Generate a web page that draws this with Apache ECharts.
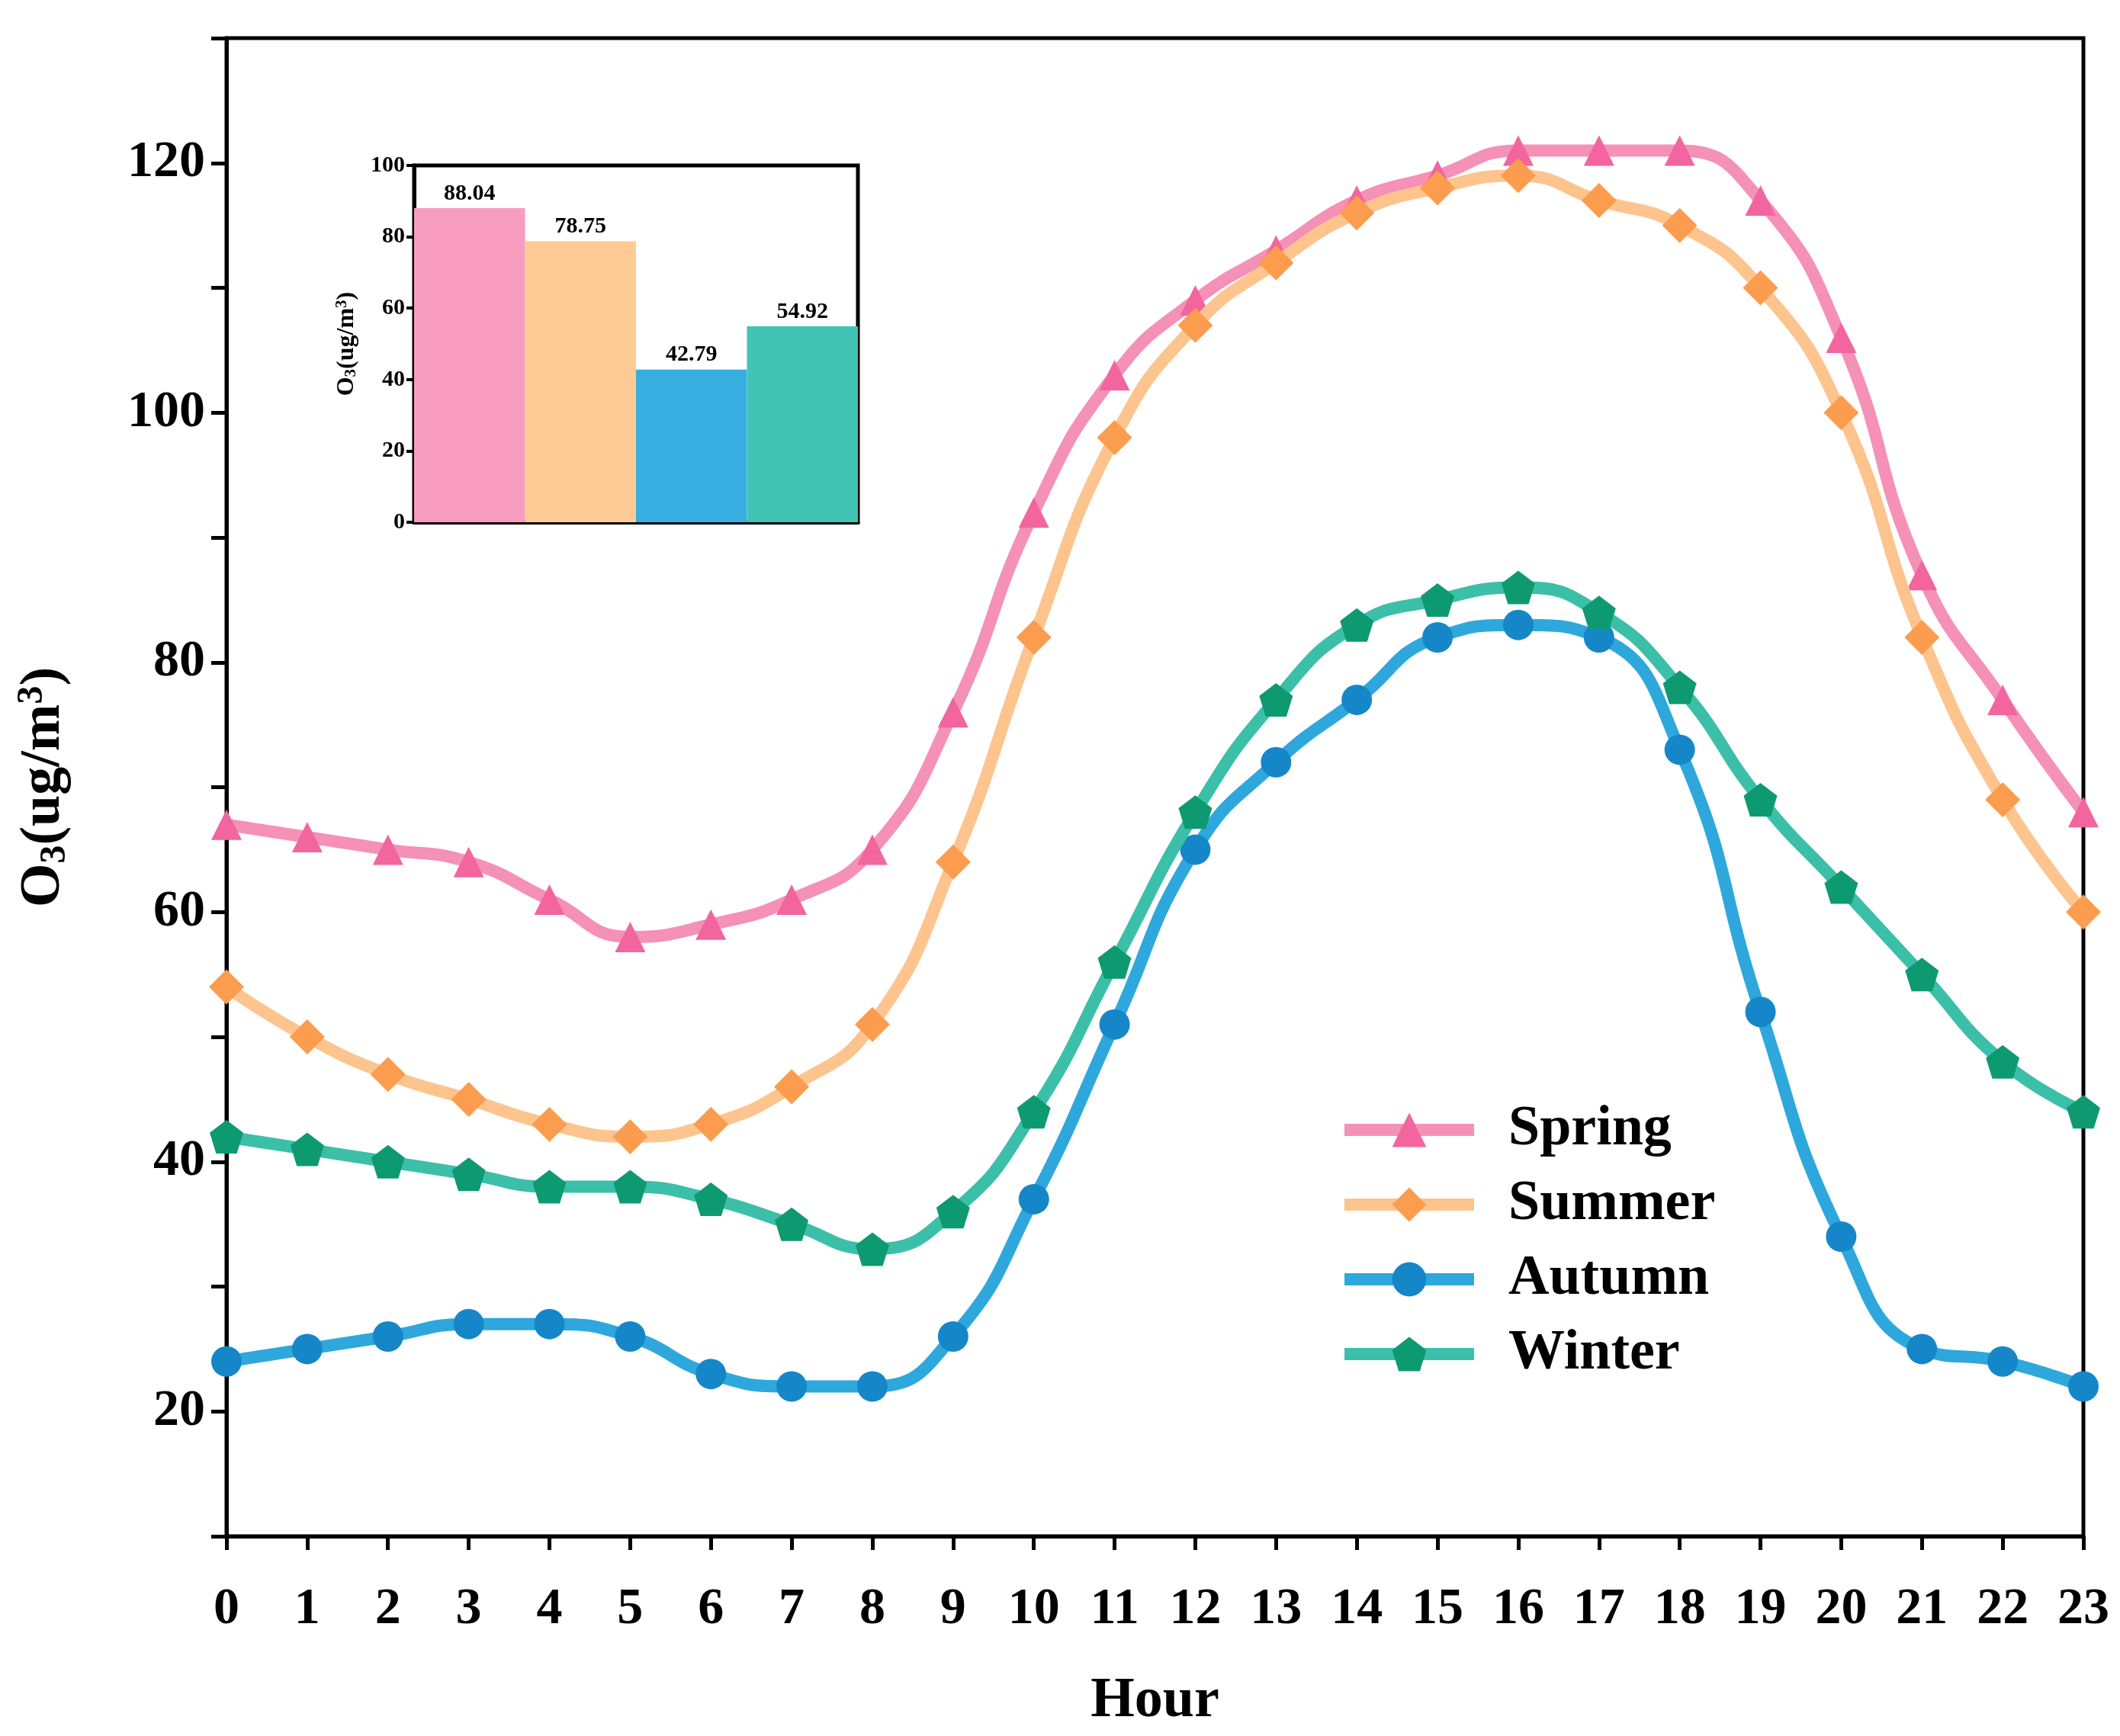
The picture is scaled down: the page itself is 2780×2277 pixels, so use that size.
<!DOCTYPE html>
<html><head><meta charset="utf-8">
<script src="https://cdn.jsdelivr.net/npm/echarts@6/dist/echarts.min.js"></script>
<style>html,body{margin:0;padding:0;background:#fff}#c{width:2780px;height:2277px}</style>
</head><body><div id="c"></div>
<script>
const hours = [0,1,2,3,4,5,6,7,8,9,10,11,12,13,14,15,16,17,18,19,20,21,22,23];
const spring = [67,66,65,64,61,58,59,61,65,76,92,103,109,113,117,119,121,121,121,117,106,87,77,68];
const summer = [54,50,47,45,43,42,43,46,51,64,82,98,107,112,116,118,119,117,115,110,100,82,69,60];
const autumn = [24,25,26,27,27,26,23,22,22,26,37,51,65,72,77,82,83,82,73,52,34,25,24,22];
const winter = [42,41,40,39,38,38,37,35,33,36,44,56,68,77,83,85,86,84,78,69,62,55,48,44];
const seasons = ['Spring','Summer','Autumn','Winter'];
const seasonMeans = [88.04,78.75,42.79,54.92];

const F = 'Liberation Serif';
const lineCol = ['#f590b6','#fdc48e','#2ea8dc','#3cbfa9'];
const markCol = ['#f2659e','#fb9c4e','#1587c8','#0e9a70'];
const symbols = ['triangle','diamond','circle','pentagon'];
const barCol = ['#f99dc0','#fecb95','#36afe0','#41c4b4'];
const pentagon = 'path://M0,-10 L9.51,-3.09 L5.88,8.09 L-5.88,8.09 L-9.51,-3.09 Z';
const vals = [spring,summer,autumn,winter];

const chart = echarts.init(document.getElementById('c'));
const axisCommon = {axisLine:{show:true,lineStyle:{color:'#000',width:5}}};
chart.setOption({
  backgroundColor:'#fff',
  animation:false,
  grid:[
    {left:297,right:48,top:50,bottom:262,show:true,borderColor:'#000',borderWidth:5},
    {left:543,top:217,width:582,height:468,show:true,borderColor:'#000',borderWidth:5}
  ],
  legend:{
    data:seasons, orient:'vertical', left:1750, top:1440, itemGap:24,
    itemWidth:170, itemHeight:56,
    textStyle:{fontFamily:F,fontWeight:'bold',fontSize:74,color:'#000',padding:[0,0,0,40]}
  },
  xAxis:[
    {type:'value',gridIndex:0,min:0,max:23,interval:1,...axisCommon,
     axisTick:{show:true,length:18,lineStyle:{width:5,color:'#000'}},
     splitLine:{show:false},
     axisLabel:{fontFamily:F,fontWeight:'bold',fontSize:68,color:'#000',margin:62},
     name:'Hour',nameLocation:'middle',nameGap:180,
     nameTextStyle:{fontFamily:F,fontWeight:'bold',fontSize:74,color:'#000'}},
    {type:'category',gridIndex:1,data:seasons,axisLabel:{show:false},axisTick:{show:false},...axisCommon}
  ],
  yAxis:[
    {type:'value',gridIndex:0,min:10,max:130,interval:10,...axisCommon,
     axisTick:{show:true,length:20,lineStyle:{width:5,color:'#000'}},
     splitLine:{show:false},
     axisLabel:{fontFamily:F,fontWeight:'bold',fontSize:68,color:'#000',margin:28,
       formatter:v=> (v%20===0 && v<=120)?String(v):''},
     name:'{a|O}{s|3}{a|(ug/m}{p|3}{a|)}',nameLocation:'middle',nameGap:200,nameRotate:90,
     nameTextStyle:{rich:{
       a:{fontFamily:F,fontWeight:'bold',fontSize:74,color:'#000'},
       s:{fontFamily:F,fontWeight:'bold',fontSize:48,color:'#000',padding:[30,0,0,0]},
       p:{fontFamily:F,fontWeight:'bold',fontSize:48,color:'#000',padding:[0,0,30,0]}}}},
    {type:'value',gridIndex:1,min:0,max:100,interval:20,...axisCommon,
     axisTick:{show:true,length:10,lineStyle:{width:4,color:'#000'}},
     splitLine:{show:false},
     axisLabel:{fontFamily:F,fontWeight:'bold',fontSize:30,color:'#000',margin:12},
     name:'{a|O}{s|3}{a|(ug/m}{p|3}{a|)}',nameLocation:'middle',nameGap:72,nameRotate:90,
     nameTextStyle:{rich:{
       a:{fontFamily:F,fontWeight:'bold',fontSize:32,color:'#000'},
       s:{fontFamily:F,fontWeight:'bold',fontSize:21,color:'#000',padding:[12,0,0,0]},
       p:{fontFamily:F,fontWeight:'bold',fontSize:21,color:'#000',padding:[0,0,12,0]}}}}
  ],
  series:[
    ...seasons.map((s,i)=>({
      name:s,type:'line',xAxisIndex:0,yAxisIndex:0,smooth:0.5,
      data:hours.map((h,j)=>[h,vals[i][j]]),
      symbol: i===3?pentagon:symbols[i], symbolSize: i===1?46:(i===3?44:40),
      lineStyle:{color:lineCol[i],width:16},
      itemStyle:{color:markCol[i],borderWidth:0},
      z:2+i
    })),
    {type:'bar',xAxisIndex:1,yAxisIndex:1,barCategoryGap:'0%',
     data:seasonMeans.map((v,i)=>({value:v,itemStyle:{color:barCol[i]}})),
     label:{show:true,position:'top',distance:4,fontFamily:F,fontWeight:'bold',fontSize:30,color:'#000',
       formatter:p=>p.value.toFixed(2)}}
  ]
});
// legend line thickness
chart.setOption({legend:{lineStyle:{width:16}}});
</script></body></html>
